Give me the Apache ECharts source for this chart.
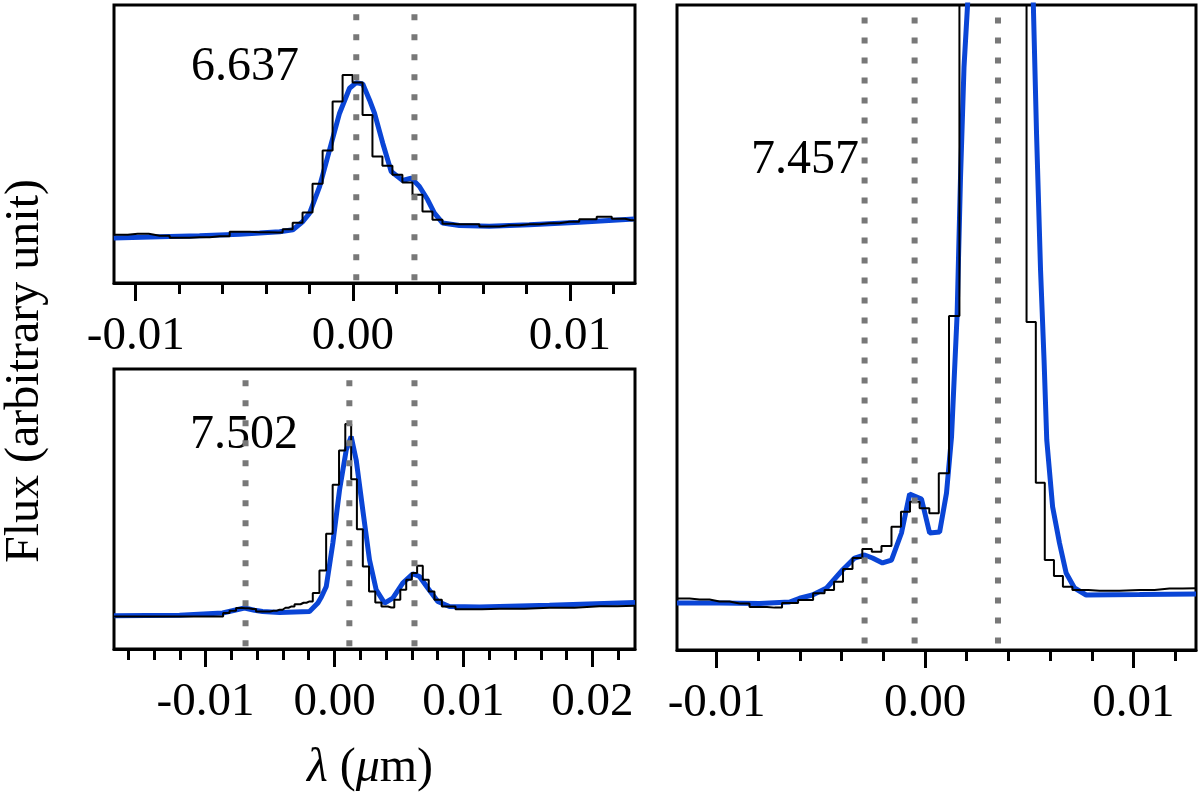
<!DOCTYPE html>
<html>
<head>
<meta charset="utf-8">
<script src="https://cdn.jsdelivr.net/npm/echarts@6.0.0/dist/echarts.min.js"></script>
<style>
  html, body { margin: 0; padding: 0; background: #fff; }
  #chart { width: 1200px; height: 804px; }
</style>
</head>
<body>
<div id="chart"></div>
<script>
// 왼쪽 위 패널 (6.637) : 검은 히스토그램(관측), 파란 선(모델)
const tlBlackX = [-0.011, -0.01083, -0.00991, -0.00889, -0.00798, -0.00706, -0.00613, -0.00521, -0.00429, -0.00346, -0.00300, -0.00254, -0.00209, -0.00162, -0.00116, -0.00070, -0.00024, 0.00022, 0.00068, 0.00113, 0.00160, 0.00205, 0.00252, 0.00298, 0.00344, 0.00390, 0.00436, 0.00482, 0.00537, 0.00629, 0.00721, 0.00813, 0.00905, 0.00997, 0.01089, 0.01158, 0.01228, 0.01282, 0.013];
const tlBlackY = [17.4, 17.36, 17.71, 17.0, 16.28, 16.46, 16.82, 18.43, 18.25, 18.18, 19.33, 21.67, 25.37, 35.68, 47.65, 65.25, 74.85, 72.08, 60.47, 45.49, 42.15, 38.91, 36.15, 31.73, 25.73, 22.75, 21.31, 21.13, 21.13, 20.30, 20.77, 21.13, 21.49, 22.03, 22.92, 23.82, 23.10, 22.57, 22.57];
const tlBlueX = [-0.01101, -0.00889, -0.00706, -0.00521, -0.00429, -0.00337, -0.00276, -0.00230, -0.00199, -0.00153, -0.00107, -0.00061, -0.00015, 0.00016, 0.00046, 0.00077, 0.00100, 0.00138, 0.00177, 0.00230, 0.00269, 0.00307, 0.00345, 0.00376, 0.00414, 0.00491, 0.00629, 0.00813, 0.01043, 0.01296];
const tlBlueY = [16.17, 16.64, 17.0, 17.53, 17.97, 18.43, 19.15, 22.13, 25.15, 34.71, 47.9, 61.08, 70.07, 72.08, 71.61, 65.86, 61.08, 50.3, 40.1, 36.87, 37.73, 34.71, 29.93, 25.15, 21.56, 20.70, 20.41, 20.95, 21.85, 23.0];
const tlLines = [0.00016, 0.00284];
const tlMajor = [-0.01, 0, 0.01];
const tlMinor = [-0.008, -0.006, -0.004, -0.002, 0.002, 0.004, 0.006, 0.008, 0.012];

// 왼쪽 아래 패널 (7.502)
const blBlackX = [-0.0171, -0.01434, -0.01124, -0.00891, -0.00837, -0.00791, -0.00736, -0.00690, -0.00636, -0.00581, -0.00527, -0.00473, -0.00426, -0.00380, -0.00333, -0.00287, -0.00240, -0.00194, -0.00143, -0.00091, -0.00039, 0.00010, 0.00060, 0.00107, 0.00151, 0.00196, 0.00243, 0.00292, 0.00340, 0.00388, 0.00440, 0.00487, 0.00533, 0.00579, 0.00620, 0.00661, 0.00708, 0.00753, 0.00797, 0.00868, 0.01008, 0.01279, 0.01667, 0.02054, 0.0233];
const blBlackY = [11.63, 11.63, 11.63, 11.63, 12.84, 13.66, 14.63, 14.56, 14.27, 13.41, 13.41, 13.66, 14.02, 14.73, 15.2, 15.98, 16.52, 16.98, 19.98, 28.04, 41.13, 58.62, 70.85, 80.38, 60.65, 42.81, 29.47, 20.55, 16.63, 15.2, 14.84, 17.59, 21.16, 24.72, 27.11, 29.72, 24.72, 20.55, 17.59, 15.2, 14.2, 14.38, 14.73, 15.27, 15.45];
const blBlueX = [-0.0171, -0.01202, -0.00868, -0.00775, -0.00698, -0.00620, -0.00558, -0.00426, -0.00194, -0.00129, -0.00101, -0.00064, -0.00013, 0.00039, 0.00091, 0.00129, 0.00168, 0.00219, 0.00271, 0.00323, 0.00388, 0.00452, 0.00529, 0.00607, 0.00659, 0.00723, 0.00801, 0.00891, 0.01124, 0.01667, 0.0233];
const blBlueY = [11.88, 12.06, 12.84, 13.84, 14.63, 13.84, 13.41, 13.06, 13.41, 16.41, 18.66, 22.33, 37.82, 56.83, 71.10, 75.85, 67.53, 49.70, 31.86, 21.16, 16.41, 18.19, 23.55, 26.86, 25.90, 21.76, 16.98, 15.2, 14.98, 15.63, 16.62];
const blLines = [-0.0069, 0.00115, 0.0062];
const blMajor = [-0.01, 0, 0.01, 0.02];
const blMinor = [-0.016, -0.014, -0.012, -0.008, -0.006, -0.004, -0.002, 0.002, 0.004, 0.006, 0.008, 0.012, 0.014, 0.016, 0.018, 0.022];

// 오른쪽 패널 (7.457) : 가운데 봉우리는 위로 잘려 나간다
const rBlackX = [-0.0119, -0.01177, -0.01082, -0.00986, -0.00890, -0.00794, -0.00722, -0.00650, -0.00568, -0.00506, -0.00458, -0.00415, -0.00372, -0.00324, -0.00278, -0.00233, -0.00185, -0.00137, -0.00094, -0.00050, -0.00002, 0.00043, 0.00089, 0.00141, 0.00189, 0.00235, 0.00281, 0.00326, 0.00372, 0.00417, 0.00463, 0.00511, 0.00552, 0.00597, 0.00640, 0.00683, 0.00731, 0.00837, 0.01029, 0.01173, 0.013];
const rBlackY = [7.97, 7.97, 7.83, 7.52, 7.21, 6.67, 6.57, 7.29, 7.75, 8.79, 9.30, 10.59, 12.56, 14.26, 15.66, 15.24, 16.12, 19.12, 21.44, 22.99, 21.97, 21.19, 27.40, 51.78, 180, 300, 420, 460, 400, 300, 180, 50.85, 25.94, 13.95, 11.47, 9.81, 9.30, 9.19, 9.30, 9.53, 9.57];
const rBlueX = [-0.0119, -0.00986, -0.00794, -0.00650, -0.00602, -0.00540, -0.00472, -0.00396, -0.00338, -0.00290, -0.00252, -0.00204, -0.00161, -0.00113, -0.00074, -0.00017, 0.00022, 0.00070, 0.00103, 0.00127, 0.00154, 0.00170, 0.00187, 0.00204, 0.00218, 0.00357, 0.00506, 0.00519, 0.00535, 0.00554, 0.00571, 0.00584, 0.00612, 0.00645, 0.00677, 0.00717, 0.00773, 0.01029, 0.013];
const rBlueY = [7.29, 7.29, 7.21, 7.44, 8.02, 8.53, 9.61, 12.40, 14.26, 14.73, 14.26, 13.49, 13.95, 18.14, 24.19, 23.41, 18.14, 18.29, 24.34, 33.02, 52.09, 73.02, 90.39, 100, 110.08, 400, 110.08, 100.78, 80.0, 59.07, 44.96, 32.56, 22.22, 16.59, 11.94, 9.61, 8.53, 8.60, 8.68];
const rLines = [-0.0029, -0.0005, 0.0035];
const rMajor = [-0.01, 0, 0.01];
const rMinor = [-0.008, -0.006, -0.004, -0.002, 0.002, 0.004, 0.006, 0.008, 0.012];

const panelNames = ['6.637', '7.502', '7.457'];
const xTitle = '{i|λ} ({i|μ}m)';
const yTitle = 'Flux (arbitrary unit)';

const FONT = 'Liberation Serif';
const BLUE = '#0a45d6';

const zip = (xs, ys) => xs.map((x, i) => [x, ys[i]]);

// 패널마다 grid 하나, x축 두 개(큰 눈금 + 작은 눈금), 숨긴 y축 하나
const panels = [
  { grid: { left: 114, top: 5, width: 521, height: 278 }, min: -0.011, max: 0.013,
    major: tlMajor, minor: tlMinor, black: zip(tlBlackX, tlBlackY), blue: zip(tlBlueX, tlBlueY), lines: tlLines },
  { grid: { left: 114, top: 369, width: 521, height: 280 }, min: -0.0171, max: 0.0233,
    major: blMajor, minor: blMinor, black: zip(blBlackX, blBlackY), blue: zip(blBlueX, blBlueY), lines: blLines },
  { grid: { left: 677, top: 5, width: 519, height: 645 }, min: -0.0119, max: 0.013,
    major: rMajor, minor: rMinor, black: zip(rBlackX, rBlackY), blue: zip(rBlueX, rBlueY), lines: rLines }
];

const grids = [], xAxes = [], yAxes = [], series = [];
panels.forEach((p, i) => {
  grids.push(Object.assign({ show: true, borderColor: '#000', borderWidth: 3, backgroundColor: 'transparent' }, p.grid));
  xAxes.push({
    type: 'value', gridIndex: i, min: p.min, max: p.max, position: 'bottom',
    axisLine: { show: true, onZero: false, lineStyle: { color: '#000', width: 3 } },
    axisTick: { show: true, inside: false, length: 18, customValues: p.major, lineStyle: { color: '#000', width: 3 } },
    axisLabel: { show: true, customValues: p.major, margin: 30, formatter: v => v.toFixed(2),
      fontFamily: FONT, fontSize: 47, lineHeight: 47, color: '#000' },
    splitLine: { show: false }
  });
  xAxes.push({
    type: 'value', gridIndex: i, min: p.min, max: p.max, position: 'bottom',
    axisLine: { show: false, onZero: false },
    axisTick: { show: true, inside: false, length: 11, customValues: p.minor, lineStyle: { color: '#000', width: 3 } },
    axisLabel: { show: false },
    splitLine: { show: false }
  });
  yAxes.push({ type: 'value', gridIndex: i, min: 0, max: 100, show: false });

  series.push({
    type: 'line', xAxisIndex: 2 * i, yAxisIndex: i, data: p.blue, symbol: 'none',
    lineStyle: { color: BLUE, width: 5 }, z: 2, animation: false
  });
  series.push({
    type: 'line', xAxisIndex: 2 * i, yAxisIndex: i, data: p.black, symbol: 'none', step: 'middle',
    lineStyle: { color: '#000', width: 2 }, z: 3, animation: false
  });
  // 회색 점선: 선 하나마다 아래-위 두 점짜리 line 시리즈
  p.lines.forEach(v => {
    series.push({
      type: 'line', xAxisIndex: 2 * i, yAxisIndex: i, data: [[v, 1], [v, 99]], symbol: 'none',
      lineStyle: { color: '#787878', width: 6, type: [6, 14], cap: 'butt' }, z: 4, animation: false, silent: true
    });
  });
});

const chart = echarts.init(document.getElementById('chart'));
chart.setOption({
  backgroundColor: '#fff',
  grid: grids,
  xAxis: xAxes,
  yAxis: yAxes,
  series: series,
  graphic: [
    { type: 'text', x: 245, y: 67, style: { text: panelNames[0], fontFamily: FONT, fontSize: 48, fill: '#000', textAlign: 'center', textVerticalAlign: 'middle' } },
    { type: 'text', x: 244, y: 435, style: { text: panelNames[1], fontFamily: FONT, fontSize: 48, fill: '#000', textAlign: 'center', textVerticalAlign: 'middle' } },
    { type: 'text', x: 805, y: 160, style: { text: panelNames[2], fontFamily: FONT, fontSize: 48, fill: '#000', textAlign: 'center', textVerticalAlign: 'middle' } },
    { type: 'text', x: 370, y: 768, style: { text: xTitle, fontFamily: FONT, fontSize: 48, fill: '#000', textAlign: 'center', textVerticalAlign: 'middle',
      rich: { i: { fontFamily: FONT, fontSize: 48, fontStyle: 'italic' } } } },
    { type: 'text', x: 25, y: 371, rotation: Math.PI / 2, style: { text: yTitle, fontFamily: FONT, fontSize: 48, fill: '#000', textAlign: 'center', textVerticalAlign: 'middle' } }
  ]
});
</script>
</body>
</html>
